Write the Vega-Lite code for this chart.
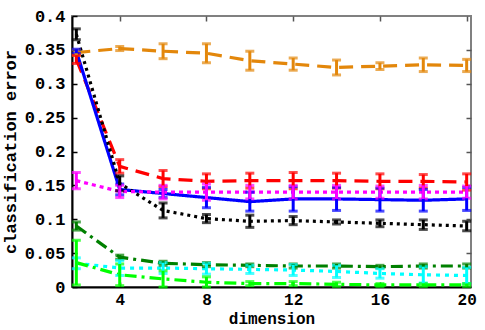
{
  "$schema": "https://vega.github.io/schema/vega-lite/v6.json",
  "width": 399,
  "height": 271,
  "autosize": "none",
  "padding": {"left": 72, "top": 16, "right": 14, "bottom": 43},
  "background": "white",
  "config": {
    "view": {"stroke": "#808080", "strokeWidth": 2},
    "axis": {"grid": false, "labelFont": "Liberation Mono", "labelFontWeight": "bold", "labelFontSize": 17, "labelColor": "black", "titleFont": "Liberation Mono", "titleFontWeight": "bold", "titleFontSize": 17, "titleColor": "black"}
  },
  "data": {"values": [
    {"s": "orange", "x": 2, "y": 0.346, "lo": 0.342, "hi": 0.350},
    {"s": "orange", "x": 4, "y": 0.352, "lo": 0.349, "hi": 0.355},
    {"s": "orange", "x": 6, "y": 0.348, "lo": 0.337, "hi": 0.359},
    {"s": "orange", "x": 8, "y": 0.345, "lo": 0.331, "hi": 0.359},
    {"s": "orange", "x": 10, "y": 0.334, "lo": 0.320, "hi": 0.348},
    {"s": "orange", "x": 12, "y": 0.329, "lo": 0.320, "hi": 0.338},
    {"s": "orange", "x": 14, "y": 0.324, "lo": 0.313, "hi": 0.335},
    {"s": "orange", "x": 16, "y": 0.326, "lo": 0.321, "hi": 0.331},
    {"s": "orange", "x": 18, "y": 0.328, "lo": 0.318, "hi": 0.338},
    {"s": "orange", "x": 20, "y": 0.327, "lo": 0.318, "hi": 0.336},
    {"s": "red", "x": 2, "y": 0.336, "lo": 0.330, "hi": 0.342},
    {"s": "red", "x": 4, "y": 0.178, "lo": 0.168, "hi": 0.188},
    {"s": "red", "x": 6, "y": 0.160, "lo": 0.148, "hi": 0.172},
    {"s": "red", "x": 8, "y": 0.156, "lo": 0.145, "hi": 0.167},
    {"s": "red", "x": 10, "y": 0.157, "lo": 0.146, "hi": 0.168},
    {"s": "red", "x": 12, "y": 0.157, "lo": 0.145, "hi": 0.169},
    {"s": "red", "x": 14, "y": 0.157, "lo": 0.146, "hi": 0.168},
    {"s": "red", "x": 16, "y": 0.156, "lo": 0.145, "hi": 0.167},
    {"s": "red", "x": 18, "y": 0.156, "lo": 0.146, "hi": 0.166},
    {"s": "red", "x": 20, "y": 0.155, "lo": 0.143, "hi": 0.167},
    {"s": "blue", "x": 2, "y": 0.348, "lo": 0.345, "hi": 0.351},
    {"s": "blue", "x": 4, "y": 0.144, "lo": 0.136, "hi": 0.152},
    {"s": "blue", "x": 6, "y": 0.138, "lo": 0.132, "hi": 0.144},
    {"s": "blue", "x": 8, "y": 0.132, "lo": 0.117, "hi": 0.147},
    {"s": "blue", "x": 10, "y": 0.126, "lo": 0.112, "hi": 0.140},
    {"s": "blue", "x": 12, "y": 0.130, "lo": 0.112, "hi": 0.148},
    {"s": "blue", "x": 14, "y": 0.130, "lo": 0.113, "hi": 0.147},
    {"s": "blue", "x": 16, "y": 0.129, "lo": 0.112, "hi": 0.146},
    {"s": "blue", "x": 18, "y": 0.128, "lo": 0.112, "hi": 0.144},
    {"s": "blue", "x": 20, "y": 0.130, "lo": 0.113, "hi": 0.147},
    {"s": "black", "x": 2, "y": 0.373, "lo": 0.365, "hi": 0.381},
    {"s": "black", "x": 4, "y": 0.153, "lo": 0.142, "hi": 0.164},
    {"s": "black", "x": 6, "y": 0.113, "lo": 0.102, "hi": 0.124},
    {"s": "black", "x": 8, "y": 0.101, "lo": 0.095, "hi": 0.107},
    {"s": "black", "x": 10, "y": 0.097, "lo": 0.088, "hi": 0.106},
    {"s": "black", "x": 12, "y": 0.098, "lo": 0.092, "hi": 0.104},
    {"s": "black", "x": 14, "y": 0.096, "lo": 0.093, "hi": 0.099},
    {"s": "black", "x": 16, "y": 0.094, "lo": 0.089, "hi": 0.099},
    {"s": "black", "x": 18, "y": 0.092, "lo": 0.085, "hi": 0.099},
    {"s": "black", "x": 20, "y": 0.090, "lo": 0.083, "hi": 0.097},
    {"s": "magenta", "x": 2, "y": 0.157, "lo": 0.145, "hi": 0.169},
    {"s": "magenta", "x": 4, "y": 0.141, "lo": 0.132, "hi": 0.150},
    {"s": "magenta", "x": 6, "y": 0.140, "lo": 0.130, "hi": 0.150},
    {"s": "magenta", "x": 8, "y": 0.140, "lo": 0.128, "hi": 0.152},
    {"s": "magenta", "x": 10, "y": 0.140, "lo": 0.130, "hi": 0.150},
    {"s": "magenta", "x": 12, "y": 0.140, "lo": 0.130, "hi": 0.150},
    {"s": "magenta", "x": 14, "y": 0.140, "lo": 0.130, "hi": 0.150},
    {"s": "magenta", "x": 16, "y": 0.140, "lo": 0.131, "hi": 0.149},
    {"s": "magenta", "x": 18, "y": 0.140, "lo": 0.130, "hi": 0.150},
    {"s": "magenta", "x": 20, "y": 0.140, "lo": 0.131, "hi": 0.149},
    {"s": "darkgreen", "x": 2, "y": 0.090, "lo": 0.084, "hi": 0.096},
    {"s": "darkgreen", "x": 4, "y": 0.044, "lo": 0.041, "hi": 0.047},
    {"s": "darkgreen", "x": 6, "y": 0.035, "lo": 0.032, "hi": 0.038},
    {"s": "darkgreen", "x": 8, "y": 0.033, "lo": 0.030, "hi": 0.036},
    {"s": "darkgreen", "x": 10, "y": 0.032, "lo": 0.030, "hi": 0.034},
    {"s": "darkgreen", "x": 12, "y": 0.031, "lo": 0.028, "hi": 0.034},
    {"s": "darkgreen", "x": 14, "y": 0.031, "lo": 0.028, "hi": 0.034},
    {"s": "darkgreen", "x": 16, "y": 0.030, "lo": 0.028, "hi": 0.032},
    {"s": "darkgreen", "x": 18, "y": 0.031, "lo": 0.028, "hi": 0.034},
    {"s": "darkgreen", "x": 20, "y": 0.031, "lo": 0.028, "hi": 0.034},
    {"s": "cyan", "x": 2, "y": 0.035, "lo": 0.027, "hi": 0.043},
    {"s": "cyan", "x": 4, "y": 0.028, "lo": 0.017, "hi": 0.039},
    {"s": "cyan", "x": 6, "y": 0.028, "lo": 0.020, "hi": 0.036},
    {"s": "cyan", "x": 8, "y": 0.027, "lo": 0.019, "hi": 0.035},
    {"s": "cyan", "x": 10, "y": 0.026, "lo": 0.020, "hi": 0.032},
    {"s": "cyan", "x": 12, "y": 0.025, "lo": 0.017, "hi": 0.033},
    {"s": "cyan", "x": 14, "y": 0.023, "lo": 0.014, "hi": 0.032},
    {"s": "cyan", "x": 16, "y": 0.020, "lo": 0.013, "hi": 0.027},
    {"s": "cyan", "x": 18, "y": 0.018, "lo": 0.006, "hi": 0.030},
    {"s": "cyan", "x": 20, "y": 0.017, "lo": 0.005, "hi": 0.029},
    {"s": "lightgreen", "x": 2, "y": 0.036, "lo": 0.003, "hi": 0.069},
    {"s": "lightgreen", "x": 4, "y": 0.018, "lo": 0.002, "hi": 0.034},
    {"s": "lightgreen", "x": 6, "y": 0.012, "lo": 0.000, "hi": 0.024},
    {"s": "lightgreen", "x": 8, "y": 0.007, "lo": 0.000, "hi": 0.015},
    {"s": "lightgreen", "x": 10, "y": 0.005, "lo": 0.002, "hi": 0.008},
    {"s": "lightgreen", "x": 12, "y": 0.005, "lo": 0.002, "hi": 0.008},
    {"s": "lightgreen", "x": 14, "y": 0.004, "lo": 0.001, "hi": 0.007},
    {"s": "lightgreen", "x": 16, "y": 0.003, "lo": 0.001, "hi": 0.005},
    {"s": "lightgreen", "x": 18, "y": 0.003, "lo": 0.001, "hi": 0.005},
    {"s": "lightgreen", "x": 20, "y": 0.003, "lo": 0.001, "hi": 0.005}
  ]},
  "resolve": {"axis": {"x": "independent", "y": "independent"}},
  "layer": [
    {
      "mark": {"type": "line", "strokeWidth": 3.2, "clip": true},
      "encoding": {
        "x": {"field": "x", "type": "quantitative", "scale": {"domain": [1.8, 20.2], "nice": false, "zero": false},
          "axis": {"values": [4, 8, 12, 16, 20], "title": "dimension", "labelFontSize": 16, "titleFontSize": 16, "tickSize": -5, "tickColor": "black", "tickWidth": 1.5, "domainColor": "black", "domainWidth": 2, "labelPadding": 9, "titlePadding": 3}},
        "y": {"field": "y", "type": "quantitative", "scale": {"domain": [0, 0.4], "nice": false},
          "axis": {"values": [0, 0.05, 0.1, 0.15, 0.2, 0.25, 0.3, 0.35, 0.4], "format": ".2~f", "title": "classification error", "tickSize": -5, "tickColor": "black", "tickWidth": 1.5, "domainColor": "black", "domainWidth": 2, "labelPadding": 12, "titlePadding": 5}},
        "color": {"field": "s", "type": "nominal", "legend": null,
          "scale": {"domain": ["orange", "red", "blue", "black", "magenta", "darkgreen", "cyan", "lightgreen"],
            "range": ["#e3870b", "#ff0000", "#0000ff", "#000000", "#ff00ff", "#008000", "#00ffff", "#00ff00"]}},
        "strokeDash": {"field": "s", "type": "nominal", "legend": null,
          "scale": {"domain": ["orange", "red", "blue", "black", "magenta", "darkgreen", "cyan", "lightgreen"],
            "range": [[14, 8], [14, 8], [1, 0], [3, 4], [4, 4], [12, 5, 3, 5], [4, 5], [12, 5, 3, 5]]}}
      }
    },
    {
      "mark": {"type": "errorbar", "ticks": {"size": 9, "thickness": 3}, "thickness": 3},
      "encoding": {
        "x": {"field": "x", "type": "quantitative", "axis": null},
        "y": {"field": "lo", "type": "quantitative", "axis": null},
        "y2": {"field": "hi"},
        "color": {"field": "s", "type": "nominal", "legend": null}
      }
    },
    {
      "mark": {"type": "point", "opacity": 0},
      "encoding": {
        "x": {"field": "x", "type": "quantitative", "axis": {"orient": "top", "values": [4, 8, 12, 16, 20], "labels": false, "title": null, "tickSize": -5, "tickColor": "#555", "tickWidth": 1.5, "domain": false}},
        "y": {"field": "y", "type": "quantitative", "axis": {"orient": "right", "values": [0.05, 0.1, 0.15, 0.2, 0.25, 0.3, 0.35], "labels": false, "title": null, "tickSize": -5, "tickColor": "#555", "tickWidth": 1.5, "domain": false}}
      }
    }
  ]
}
